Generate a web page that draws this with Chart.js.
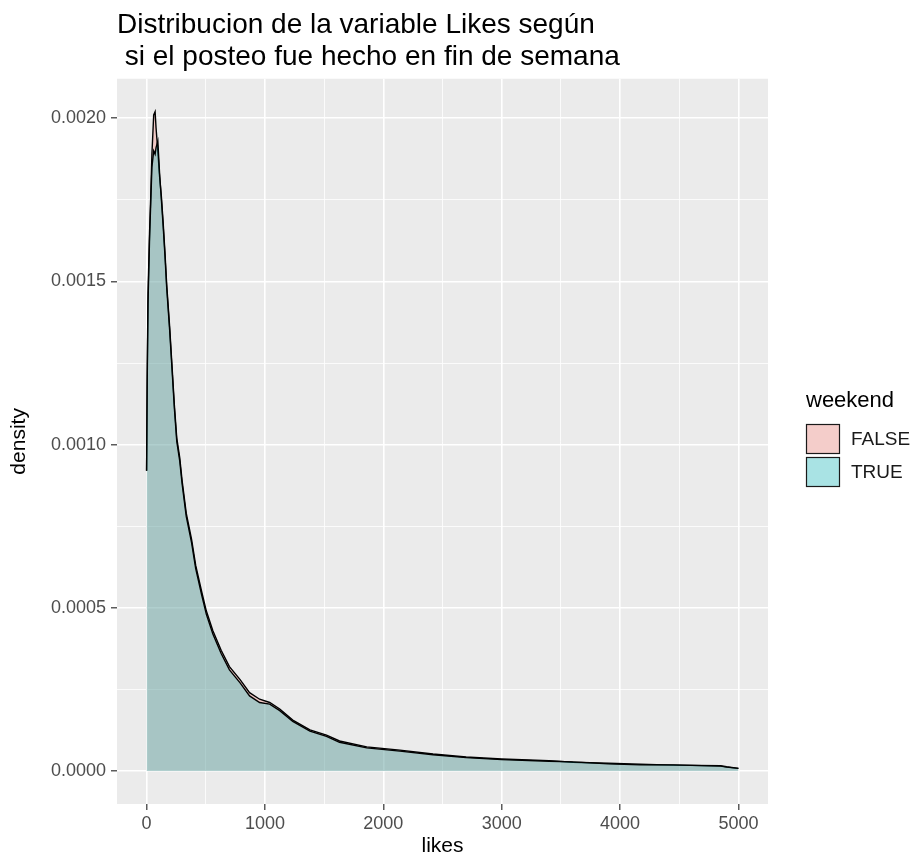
<!DOCTYPE html>
<html>
<head>
<meta charset="utf-8">
<script src="https://cdn.jsdelivr.net/npm/chart.js@4.4.1/dist/chart.umd.min.js"></script>
<style>
  html, body { margin: 0; padding: 0; background: #ffffff; }
  #wrap { width: 922px; height: 864px; }
</style>
</head>
<body>
<div id="wrap"><canvas id="c" width="922" height="864"></canvas></div>
<script>
// ---- data ----
const titleLines = ["Distribucion de la variable Likes según", " si el posteo fue hecho en fin de semana"];
const xTitle = "likes";
const yTitle = "density";
const legendTitle = "weekend";
const groups = ["FALSE", "TRUE"];

const likes = [0, 5, 12, 25, 35, 45, 60, 72, 80, 95, 110, 125, 140, 155, 170, 195, 215, 235, 255, 280, 300,
  335, 380, 415, 465, 505, 560, 630, 700, 790, 870, 955, 1040, 1125, 1235, 1380, 1520, 1630, 1860, 2140,
  2420, 2700, 3000, 3400, 3600, 3900, 4170, 4450, 4850, 4900, 5000];

const densityFalse = [0.00092, 0.00121, 0.00146, 0.00165, 0.00176, 0.00189, 0.00201, 0.00202, 0.00197, 0.00190,
  0.00182, 0.00176, 0.00168, 0.00159, 0.00149, 0.00136, 0.00124, 0.00112, 0.00102, 0.00096, 0.00089,
  0.00079, 0.00071, 0.00063, 0.00055, 0.00049, 0.00043, 0.00037, 0.00032, 0.00028, 0.00024, 0.00022,
  0.00021, 0.00019, 0.000156, 0.000126, 0.00011, 0.000092, 0.000074, 0.000064,
  0.000052, 0.000043, 0.000037, 0.000032, 0.000027, 0.000024, 0.000021, 0.000018, 0.000016, 0.000013, 0.000008];

const densityTrue = [0.00092, 0.00118, 0.00143, 0.00163, 0.00174, 0.00185, 0.00190, 0.00189, 0.00191, 0.00193,
  0.00183, 0.00175, 0.00167, 0.00158, 0.00148, 0.00135, 0.00123, 0.00111, 0.00101, 0.00095, 0.00088,
  0.00078, 0.00070, 0.00062, 0.00054, 0.00048, 0.00042, 0.00036, 0.00031, 0.00027, 0.00023, 0.00021,
  0.000205, 0.000185, 0.000152, 0.000122, 0.000106, 0.000088, 0.000071, 0.000061,
  0.000050, 0.000041, 0.000035, 0.000030, 0.000028, 0.000022, 0.000019, 0.000019, 0.000015, 0.000012, 0.000008];

// tick positions (major ones get labels, the others are minor grid lines)
const xTickValues = [0, 500, 1000, 1500, 2000, 2500, 3000, 3500, 4000, 4500, 5000];
const xTickLabels = ["0", "", "1000", "", "2000", "", "3000", "", "4000", "", "5000"];
const yTickValues = [0, 0.00025, 0.0005, 0.00075, 0.001, 0.00125, 0.0015, 0.00175, 0.002];
const yTickLabels = ["0.0000", "", "0.0005", "", "0.0010", "", "0.0015", "", "0.0020"];

const xMin = -250, xMax = 5250;
const yMin = -0.000101, yMax = 0.002121;

// ---- styles ----
const FONT = "'Liberation Sans', Arial, sans-serif";
const fills = ["rgba(248,118,109,0.3)", "rgba(0,191,196,0.3)"];
const keyFills = ["#F4CDCA", "#A9E3E4"];

const toPts = (ys) => likes.map((x, i) => ({ x: x, y: ys[i] }));

const panelBg = {
  id: 'panelBg',
  beforeDraw(chart) {
    const { ctx, chartArea: a } = chart;
    ctx.save();
    ctx.fillStyle = '#ffffff';
    ctx.fillRect(0, 0, chart.width, chart.height);
    ctx.fillStyle = '#EBEBEB';
    ctx.fillRect(a.left, a.top, a.right - a.left, a.bottom - a.top);
    ctx.restore();
  }
};

const ggLegend = {
  id: 'ggLegend',
  afterDraw(chart) {
    const { ctx } = chart;
    const x0 = 806, titleY = 401, boxW = 34, boxH = 30, firstBoxY = 424;
    ctx.save();
    ctx.fillStyle = '#000000';
    ctx.font = "22px " + FONT;
    ctx.textBaseline = 'middle';
    ctx.textAlign = 'left';
    ctx.fillText(legendTitle, x0, titleY);
    chart.data.datasets.forEach((ds, i) => {
      const y = firstBoxY + i * (boxH + 3);
      ctx.fillStyle = '#F2F2F2';
      ctx.fillRect(x0, y, boxW, boxH);
      ctx.fillStyle = keyFills[i];
      ctx.fillRect(x0, y, boxW, boxH);
      ctx.strokeStyle = '#1a1a1a';
      ctx.lineWidth = 1.2;
      ctx.strokeRect(x0 + 0.5, y + 0.5, boxW - 1, boxH - 1);
      ctx.fillStyle = '#1a1a1a';
      ctx.font = "19px " + FONT;
      ctx.fillText(ds.label, x0 + boxW + 11, y + boxH / 2 + 1);
    });
    ctx.restore();
  }
};

const labelOf = (vals, labs, v) => {
  const i = vals.findIndex((t) => Math.abs(t - v) < 1e-9 * Math.max(1, Math.abs(t)) || Math.abs(t - v) < 1e-12);
  return i >= 0 ? labs[i] : '';
};
const isMajor = (vals, labs, v) => labelOf(vals, labs, v) !== '';

new Chart(document.getElementById('c'), {
  type: 'line',
  data: {
    datasets: [
      { label: groups[0], data: toPts(densityFalse), borderColor: '#000000', backgroundColor: fills[0],
        borderWidth: 1.4, pointRadius: 0, fill: 'origin', tension: 0, order: 1 },
      { label: groups[1], data: toPts(densityTrue), borderColor: '#000000', backgroundColor: fills[1],
        borderWidth: 1.4, pointRadius: 0, fill: 'origin', tension: 0, order: 0 }
    ]
  },
  options: {
    responsive: false,
    animation: false,
    layout: { padding: { left: 0, right: 154, top: 0, bottom: 0 } },
    plugins: {
      legend: { display: false },
      tooltip: { enabled: false },
      title: {
        display: true, text: titleLines, align: 'start', fullSize: false,
        color: '#000000', font: { family: FONT, size: 28, weight: 'normal', lineHeight: 1.12 },
        padding: { top: 10, bottom: 6 }
      }
    },
    scales: {
      x: {
        type: 'linear', min: xMin, max: xMax,
        afterBuildTicks: (s) => { s.ticks = xTickValues.map((v) => ({ value: v })); },
        afterFit: (s) => { s.height = 60; },
        ticks: {
          autoSkip: false, maxRotation: 0,
          color: '#4D4D4D', font: { family: FONT, size: 18 }, padding: 3,
          callback: (v) => labelOf(xTickValues, xTickLabels, v)
        },
        grid: {
          color: '#ffffff',
          lineWidth: (c) => (c.tick && isMajor(xTickValues, xTickLabels, c.tick.value)) ? 1.6 : 0.8,
          tickColor: (c) => (c.tick && isMajor(xTickValues, xTickLabels, c.tick.value)) ? '#333333' : 'rgba(0,0,0,0)',
          tickLength: 6, tickWidth: 1.2
        },
        border: { display: false },
        title: { display: true, text: xTitle, color: '#000000', font: { family: FONT, size: 21 }, padding: { top: 2, bottom: 5 } }
      },
      y: {
        type: 'linear', min: yMin, max: yMax,
        afterBuildTicks: (s) => { s.ticks = yTickValues.map((v) => ({ value: v })); },
        afterFit: (s) => { s.width = 117; },
        ticks: {
          autoSkip: false,
          color: '#4D4D4D', font: { family: FONT, size: 18 }, padding: 5,
          callback: (v) => labelOf(yTickValues, yTickLabels, v)
        },
        grid: {
          color: '#ffffff',
          lineWidth: (c) => (c.tick && isMajor(yTickValues, yTickLabels, c.tick.value)) ? 1.6 : 0.8,
          tickColor: (c) => (c.tick && isMajor(yTickValues, yTickLabels, c.tick.value)) ? '#333333' : 'rgba(0,0,0,0)',
          tickLength: 6, tickWidth: 1.2
        },
        border: { display: false },
        title: { display: true, text: yTitle, color: '#000000', font: { family: FONT, size: 21 }, padding: { top: 7, bottom: 4 } }
      }
    }
  },
  plugins: [panelBg, ggLegend]
});
</script>
</body>
</html>
